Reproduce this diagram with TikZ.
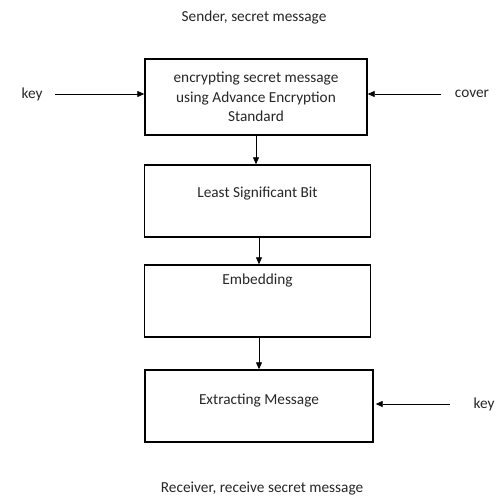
\documentclass[tikz,border=0pt]{standalone}
\usepackage{fontspec}
\setmainfont{Carlito}
\usepackage{tikz}
\usetikzlibrary{arrows.meta}

\begin{document}
\begin{tikzpicture}[x=1pt, y=-1pt,
        every node/.style={font=\fontsize{15.3}{19.5}\selectfont, text=black!85},
        stage/.style={draw, line width=1.4pt, minimum width=226pt, minimum height=72pt, inner sep=0pt},
        flow/.style={-{Triangle[length=7pt,width=6pt]}, line width=0.8pt}]
        \useasboundingbox (0,0) rectangle (501,501);
        \node (sender) at (254,18) {Sender, secret message};
        \node[stage, minimum width=222pt, minimum height=76pt, align=center] (aes) at (256,97)
            {encrypting secret message\\using Advance Encryption\\Standard};
        \node[stage, label={[yshift=7pt]center:Least Significant Bit}] (lsb) at (257.5,201) {};
        \node[stage, label={[yshift=21pt]center:Embedding}] (embed) at (257.5,301) {};
        \node[stage, minimum width=228pt, label={[yshift=5pt]center:Extracting Message}] (extract) at (259,406) {};
        \node (receiver) at (262,489) {Receiver, receive secret message};
        \node (keyin) at (32,94) {key};
        \node (cover) at (472,94) {cover};
        \node (keyout) at (484,404) {key};
        \draw[flow, shorten <=9pt] (keyin.east) -- (keyin -| aes.west);
        \draw[flow, shorten <=10pt] (cover.west) -- (cover -| aes.east);
        \draw[flow, shorten <=20pt] (keyout.west) -- ([xshift=2pt]keyout -| extract.east);
        \draw[flow] (aes.south) -- (aes.south |- lsb.north);
        \draw[flow] ([xshift=1.5pt]lsb.south) -- ([xshift=1.5pt]embed.north);
        \draw[flow] ([xshift=1.5pt]embed.south) -- ([xshift=0pt]extract.north);
\end{tikzpicture}
\end{document}
